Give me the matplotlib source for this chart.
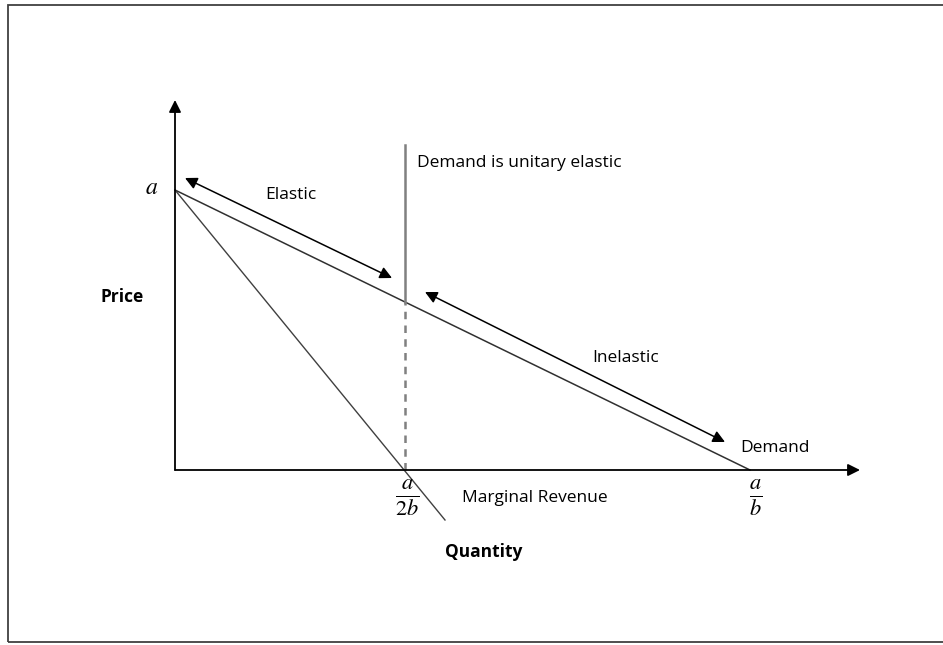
import matplotlib.pyplot as plt
from matplotlib.patches import Rectangle

plt.rcParams['font.family'] = ['Open Sans', 'DejaVu Sans']
plt.rcParams['mathtext.fontset'] = 'stix'

# chart units: origin at the axes corner, one unit ~ one pixel
price_a = 280            # demand price intercept "a"
demand_q = 575           # demand quantity intercept "a/b"
mr_q = 230               # marginal revenue intercept "a/2b"
mr_end = (270, -50)      # where the MR line stops below the axis
y_axis_top = 370
x_axis_end = 685
unit_top = 325           # top of "demand is unitary elastic" line
elastic_arrow = [(10, 292), (217, 192)]
inelastic_arrow = [(250, 178), (550, 28)]

fig = plt.figure(figsize=(9.43, 6.45), dpi=100)
ax = fig.add_axes([0, 0, 1, 1])
ax.set_xlim(-175, 768)
ax.set_ylim(-175, 470)
ax.axis('off')

# outer frame
ax.add_patch(Rectangle((-167, -172), 1000, 637, fill=False, ec='#404040', lw=1.3))

# axes with arrows
arrow_kw = dict(arrowstyle='-|>', color='black', lw=1.3, mutation_scale=18,
                shrinkA=0, shrinkB=0)
ax.annotate('', xy=(0, y_axis_top), xytext=(0, 0), arrowprops=arrow_kw)
ax.annotate('', xy=(x_axis_end, 0), xytext=(0, 0), arrowprops=arrow_kw)

# demand and marginal revenue
ax.plot([0, demand_q], [price_a, 0], color='#303030', lw=1.1)
ax.plot([0, mr_end[0]], [price_a, mr_end[1]], color='#404040', lw=1.0)

# unitary elasticity line
p_unit = price_a * (1 - mr_q / demand_q)
ax.plot([mr_q, mr_q], [p_unit, unit_top], color='#808080', lw=1.8)
ax.plot([mr_q, mr_q], [0, p_unit], color='#808080', lw=1.8, ls=(0, (3, 2.5)))

# double arrows
dbl_kw = dict(arrowstyle='<|-|>', color='black', lw=1.1, mutation_scale=18,
              shrinkA=0, shrinkB=0)
ax.annotate('', xy=elastic_arrow[0], xytext=elastic_arrow[1], arrowprops=dbl_kw)
ax.annotate('', xy=inelastic_arrow[0], xytext=inelastic_arrow[1], arrowprops=dbl_kw)

# text
fs = 12.5
ax.text(242, 307, 'Demand is unitary elastic', fontsize=fs, va='center', ha='left')
ax.text(90, 275, 'Elastic', fontsize=fs, va='center', ha='left')
ax.text(417, 112, 'Inelastic', fontsize=fs, va='center', ha='left')
ax.text(565, 22, 'Demand', fontsize=fs, va='center', ha='left')
ax.text(287, -28, 'Marginal Revenue', fontsize=fs, va='center', ha='left')
ax.text(-75, 173, 'Price', fontsize=fs, va='center', ha='left', fontweight='bold')
ax.text(270, -82, 'Quantity', fontsize=fs, va='center', ha='left', fontweight='bold')
ax.text(-23, 282, '$a$', fontsize=17, va='center', ha='center')
ax.text(mr_q + 2, -28, r'$\frac{a}{2b}$', fontsize=23, va='center', ha='center')
ax.text(demand_q + 6, -28, r'$\frac{a}{b}$', fontsize=23, va='center', ha='center')

fig.savefig('out.png', dpi=100)
